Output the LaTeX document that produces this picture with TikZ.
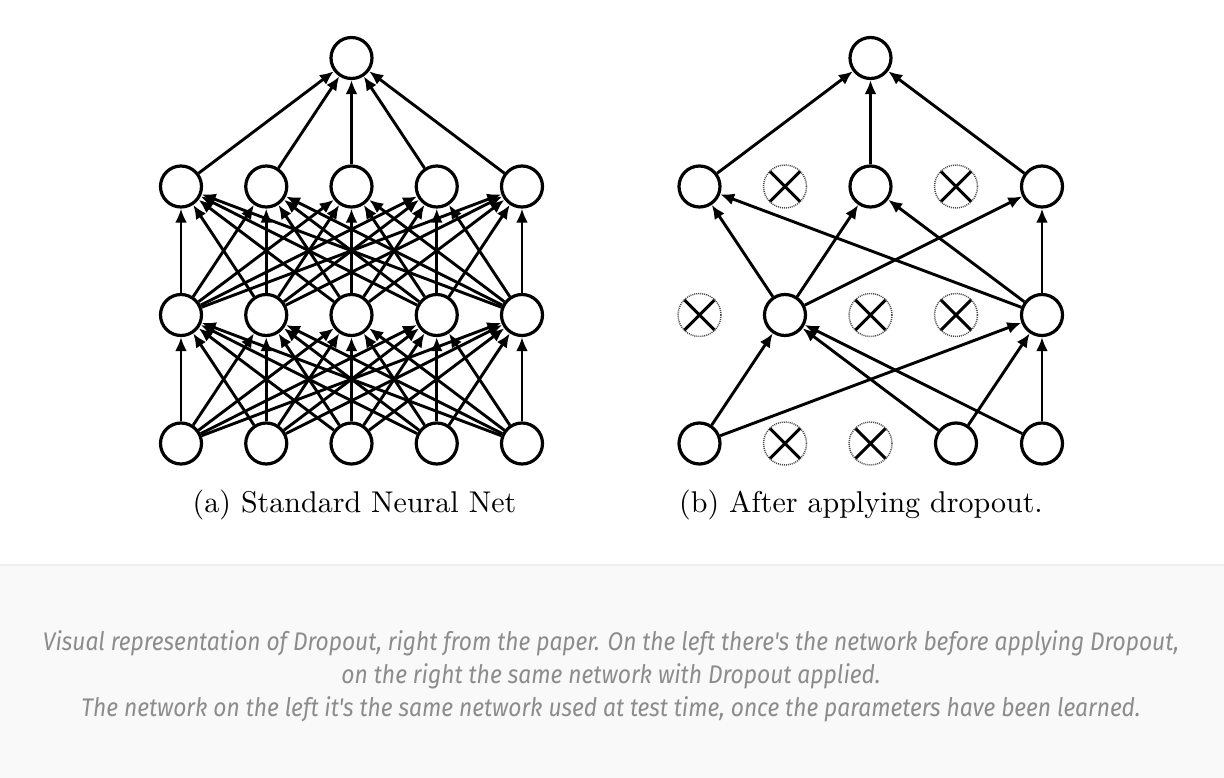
\documentclass[tikz,border=0pt]{standalone}
\usepackage{fontspec}
\newfontfamily\capfont{Fira Sans}[Ligatures=TeXOff]
\newfontfamily\cmten{lmroman10-regular.otf}
\usetikzlibrary{arrows.meta}
\definecolor{capgrey}{HTML}{8C8C8C}
\definecolor{bandgrey}{HTML}{F9F9F9}
\definecolor{bandline}{HTML}{EEEEEE}
\definecolor{dotgrey}{HTML}{4A4A4A}
\begin{document}
\begin{tikzpicture}[x=1pt,y=-1pt,
  neuron/.style={circle,draw=black,line width=3.2pt,minimum size=41pt,inner sep=0pt,fill=white},
  dropped/.style={circle,draw=dotgrey,line width=1.5pt,dash pattern=on 1pt off 1pt,minimum size=43pt,inner sep=0pt,
     path picture={\draw[black,solid,line width=3pt] (path picture bounding box.north west) -- (path picture bounding box.south east)
                        (path picture bounding box.north east) -- (path picture bounding box.south west);}},
  conn/.style={-{Latex[length=14pt,width=12pt]},line width=2.9pt},
  sublabel/.style={anchor=base,font=\cmten\fontsize{30}{36}\selectfont,inner sep=0pt},
  captext/.style={anchor=base,text=capgrey,inner sep=0pt}]
\useasboundingbox (0,0) rectangle (1224,778);
\fill[white] (0,0) rectangle (1224,565);
\fill[bandgrey] (0,565) rectangle (1224,778);
\draw[bandline,line width=1.5pt] (0,565) -- (1224,565);

% ---------- (a) standard network ----------
\foreach \i in {1,...,5} {
  \pgfmathsetmacro\xx{181+(\i-1)*85.25}
  \node[neuron] (ai\i) at (\xx,443.5) {};
  \node[neuron] (ah\i) at (\xx,315) {};
  \node[neuron] (ag\i) at (\xx,186.5) {};
}
\node[neuron] (ao) at (351.5,58) {};
\foreach \i in {1,...,5} {
  \foreach \j in {1,...,5} {
    \draw[conn] (ai\i) -- (ah\j);
    \draw[conn] (ah\i) -- (ag\j);
  }
  \draw[conn] (ag\i) -- (ao);
}

% ---------- (b) after dropout ----------
\node[neuron] (bo) at (870.5,58) {};
\node[neuron]  (bg1) at (699.5,186.5) {};
\node[dropped] (bg2) at (785,186.5) {};
\node[neuron]  (bg3) at (870.5,186.5) {};
\node[dropped] (bg4) at (956,186.5) {};
\node[neuron]  (bg5) at (1042,186.5) {};
\node[dropped] (bh1) at (699.5,315) {};
\node[neuron]  (bh2) at (785,315) {};
\node[dropped] (bh3) at (870.5,315) {};
\node[dropped] (bh4) at (956,315) {};
\node[neuron]  (bh5) at (1042,315) {};
\node[neuron]  (bi1) at (699.5,443.5) {};
\node[dropped] (bi2) at (785,443.5) {};
\node[dropped] (bi3) at (870.5,443.5) {};
\node[neuron]  (bi4) at (956,443.5) {};
\node[neuron]  (bi5) at (1042,443.5) {};
\foreach \s in {bg1,bg3,bg5} \draw[conn] (\s) -- (bo);
\foreach \s in {bh2,bh5} \foreach \t in {bg1,bg3,bg5} \draw[conn] (\s) -- (\t);
\foreach \s in {bi1,bi4,bi5} \foreach \t in {bh2,bh5} \draw[conn] (\s) -- (\t);

% ---------- sub-captions ----------
\node[sublabel] (la) at (354.5,512) {(a) Standard Neural Net};
\node[sublabel] (lb) at (861,512) {(b) After applying dropout.};

% ---------- caption ----------
\node[captext] (c1) at (611,650) {\resizebox{1136pt}{\height}{\capfont\itshape\fontsize{25.5}{30}\selectfont Visual representation of Dropout, right from the paper. On the left there's the network before applying Dropout,}};
\node[captext] (c2) at (611,683) {\resizebox{539pt}{\height}{\capfont\itshape\fontsize{25.5}{30}\selectfont on the right the same network with Dropout applied.}};
\node[captext] (c3) at (611,716) {\resizebox{1059pt}{\height}{\capfont\itshape\fontsize{25.5}{30}\selectfont The network on the left it's the same network used at test time, once the parameters have been learned.}};
\end{tikzpicture}
\end{document}
